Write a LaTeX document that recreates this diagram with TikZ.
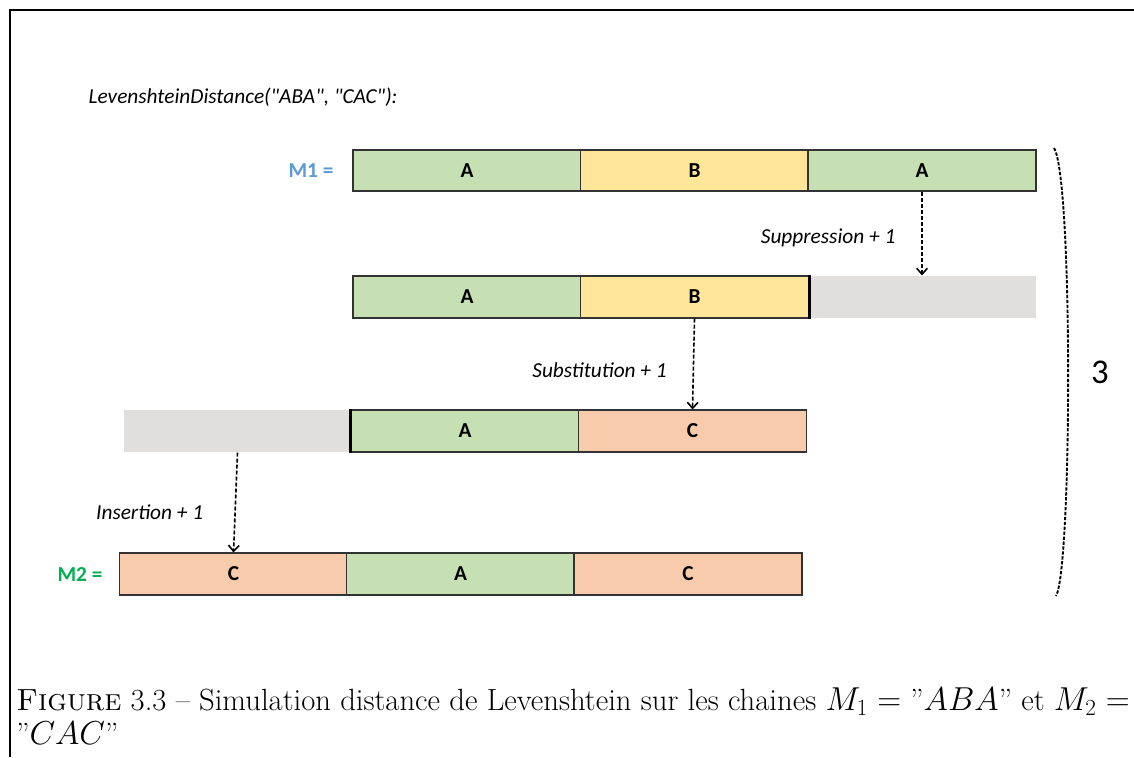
\documentclass[tikz,border=0pt]{standalone}
\usepackage{fontspec}
\newfontfamily\calibri{Carlito}
\usetikzlibrary{arrows.meta}
\definecolor{cgreen}{HTML}{C6E0B4}
\definecolor{cyellow}{HTML}{FFE699}
\definecolor{corange}{HTML}{F8CBAD}
\definecolor{cgray}{HTML}{E0DFDD}
\definecolor{cborder}{HTML}{333333}
\definecolor{mblue}{HTML}{5B9BD5}
\definecolor{mgreen}{HTML}{00B050}
\tikzset{
    cell/.style = {rectangle, draw=cborder, line width=1.3pt, minimum width=171pt, minimum height=31pt, inner sep=0pt, font=\calibri\bfseries\fontsize{16}{18}\selectfont},
    cellg/.style = {cell, fill=cgreen},
    celly/.style = {cell, fill=cyellow},
    cello/.style = {cell, fill=corange},
    cellx/.style = {cell, draw=none, fill=cgray},
    edged/.style = {-{Straight Barb[length=4.5pt,width=8pt]}, line width=1.2pt, dash pattern=on 3pt off 1.5pt}, % operation
    bracel/.style = {line width=1.4pt, dash pattern=on 2.5pt off 1.2pt},
    oplabel/.style = {font=\calibri\itshape\fontsize{16}{18}\selectfont},
    mlabel/.style = {font=\calibri\bfseries\fontsize{16}{18}\selectfont}
}
\begin{document}
\begin{tikzpicture}[x=0.75pt,y=-0.75pt]
\useasboundingbox (0,0) rectangle (1134,757);
\draw[line width=1.1pt] (10,757) -- (10,10) -- (1134,10);
%
\node[oplabel, anchor=west] (title) at (84,97) {LevenshteinDistance(\textquotedbl ABA\textquotedbl, \textquotedbl CAC\textquotedbl):};
%
\node[mlabel, text=mblue] (m1) at (311,171) {M1 =};
\node[cellg] at (467,170.5) (r1a) {A};
\node[celly] at (694.5,170.5) (r1b) {B};
\node[cellg] at (922,170.5) (r1c) {A};
%
\node[cellg] at (467,297) (r2a) {A};
\node[celly] at (694.5,297) (r2b) {B};
\node[cellx] at (922,297) (r2c) {};
\draw[line width=2.2pt] (r2b.north east) -- (r2b.south east);
%
\node[cellx] at (237.5,431) (r3a) {};
\node[cellg] at (465,431) (r3b) {A};
\node[cello] at (692.5,431) (r3c) {C};
\draw[line width=2.2pt] (r3b.north west) -- (r3b.south west);
%
\node[mlabel, text=mgreen] (m2) at (80,574) {M2 =};
\node[cello] at (233.5,574) (r4a) {C};
\node[cellg] at (460.5,574) (r4b) {A};
\node[cello] at (688,574) (r4c) {C};
%
\draw[edged] (r1c.south) -- (r2c.north) node[oplabel, pos=0.55, left=16pt] (sup) {Suppression + 1};
\draw[edged] (r2b.south) -- (r3c.north) node[oplabel, pos=0.57, left=16pt] (sub) {Substitution + 1};
\draw[edged] (r3a.south) -- (r4a.north) node[oplabel, pos=0.6, left=20pt] (ins) {Insertion + 1};
%
\coordinate (bt) at (1054,148);
\coordinate (bb) at (1056,596);
\draw[bracel] (bt) .. controls (1073,178) and (1072,568) .. (bb);
\node[font=\calibri\fontsize{26}{28}\selectfont] (cost) at (1100,372) {3};
%
\node[anchor=north west, align=left, inner sep=0pt, font=\fontsize{23}{25.5}\selectfont] (caption) at (16,688)
  {\textsc{Figure} 3.3 -- Simulation distance de Levenshtein sur les chaines $M_1 = "ABA"$ et $M_2 =$\\$"CAC"$};
\end{tikzpicture}
\end{document}
